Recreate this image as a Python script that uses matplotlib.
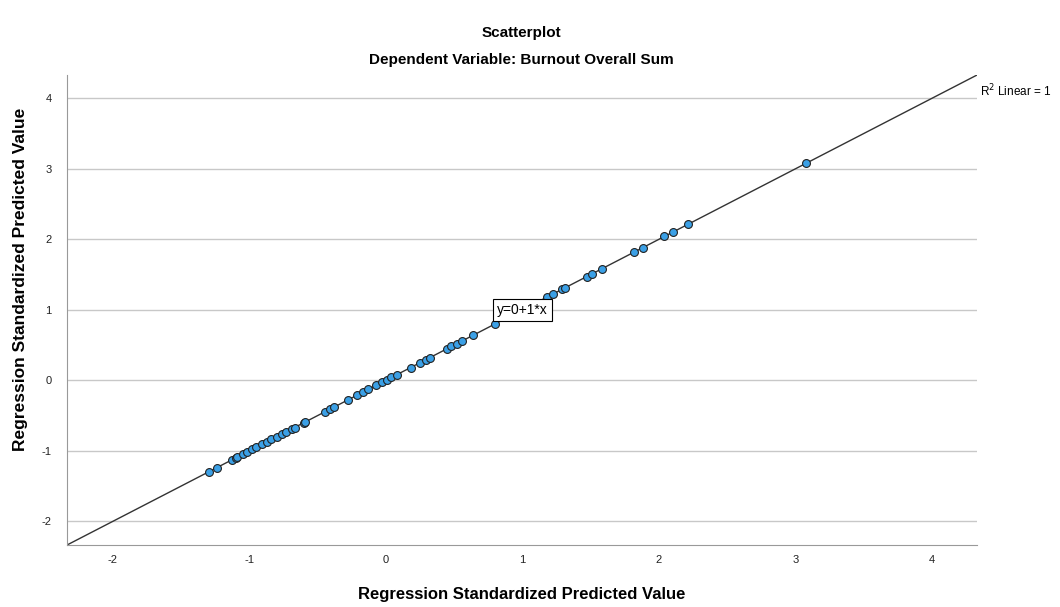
import numpy as np
import matplotlib.pyplot as plt

plt.rcParams['font.family'] = ['Liberation Sans', 'DejaVu Sans']
plt.rcParams['axes.unicode_minus'] = False

# standardized predicted values (the plot is y = x, so both axes use the same values)
pred = [-1.30, -1.24, -1.13, -1.10, -1.09, -1.05, -1.02, -0.98, -0.95, -0.91,
        -0.87, -0.84, -0.80, -0.76, -0.73, -0.69, -0.67, -0.60, -0.59,
        -0.45, -0.41, -0.38, -0.28, -0.21, -0.17, -0.13, -0.07, -0.03,
        0.01, 0.04, 0.08, 0.18, 0.25, 0.29, 0.32, 0.45, 0.48, 0.52, 0.56,
        0.64, 0.80, 1.18, 1.22, 1.29, 1.31, 1.47, 1.51, 1.58, 1.82, 1.88,
        2.04, 2.10, 2.21, 3.08]
ticks = [-2, -1, 0, 1, 2, 3, 4]
lims = (-2.337, 4.33)

fig = plt.figure(figsize=(10.6, 6.07), dpi=100)
ax = fig.add_axes([0.0632, 0.1021, 0.8585, 0.7743])

ax.set_xlim(lims)
ax.set_ylim(lims)
ax.set_xticks(ticks)
ax.set_yticks(ticks)
ax.tick_params(length=0, labelsize=8, colors='#222222')
ax.tick_params(axis='x', pad=7)
ax.tick_params(axis='y', pad=11)
ax.grid(axis='y', color='#c8c8c8', lw=1)
ax.set_axisbelow(True)
for s in ['top', 'right']:
    ax.spines[s].set_visible(False)
for s in ['left', 'bottom']:
    ax.spines[s].set_color('#999999')

# fit line y = 0 + 1*x
ax.plot(lims, lims, color='#333333', lw=1, zorder=2)
ax.scatter(pred, pred, s=32, color='#3ba0e6', edgecolor='#222222', lw=0.8, zorder=3)

ax.text(1.0, 1.0, 'y=0+1*x', fontsize=10, va='center', ha='center', zorder=4,
        bbox=dict(boxstyle='square,pad=0.3', fc='white', ec='black', lw=0.8))
ax.text(4.35, 4.1, r'R$^2$ Linear = 1', fontsize=8.5, va='center', ha='left',
        clip_on=False)

fig.text(0.492, 0.020, 'Regression Standardized Predicted Value', ha='center',
         va='center', fontsize=12, fontweight='bold')
fig.text(0.0198, 0.539, 'Regression Standardized Predicted Value', ha='center',
         va='center', rotation=90, fontsize=12.5, fontweight='bold')

fig.text(0.492, 0.945, 'Scatterplot', ha='center', va='center', fontsize=11,
         fontweight='bold')
fig.text(0.492, 0.901, 'Dependent Variable: Burnout Overall Sum', ha='center',
         va='center', fontsize=11, fontweight='bold')

fig.savefig('out.png', dpi=100)
